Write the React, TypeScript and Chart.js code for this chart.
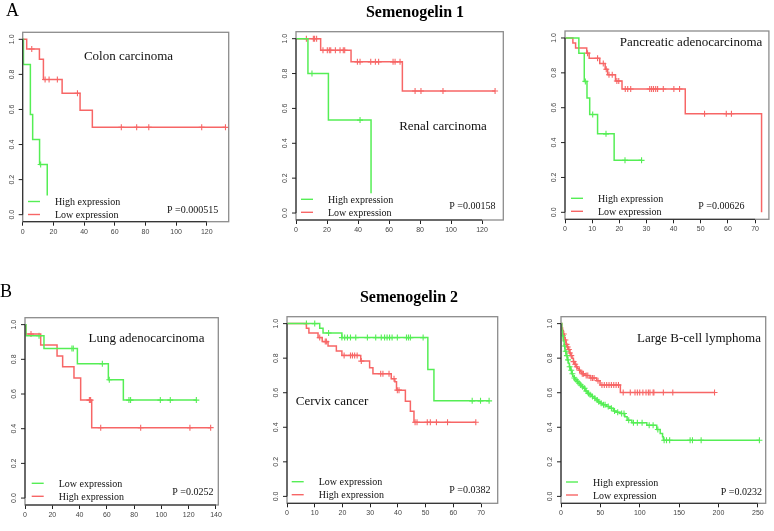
import React, { useEffect, useRef } from 'react';
import { Chart, registerables } from 'chart.js';
Chart.register(...registerables);

// ---------- DATA ----------
// Panel A1: Colon carcinoma (Semenogelin 1)
const colonHighT = [0, 0.5, 5, 6.5, 11, 16];
const colonHighS = [1, 0.857, 0.571, 0.429, 0.286, 0];
const colonHighC = [11.7];
const colonLowT = [0, 2.6, 10.9, 13.5, 25.7, 37.4, 45.4, 132.2];
const colonLowS = [1, 0.945, 0.887, 0.771, 0.692, 0.596, 0.498, 0.498];
const colonLowC = [5.9, 14.6, 17.2, 22.6, 35.7, 64.3, 74.3, 82.2, 116.7, 132.2];
const colonTicks = [0, 20, 40, 60, 80, 100, 120];

// Panel A2: Renal carcinoma
const renalHighT = [0, 7.7, 20.9, 48.4];
const renalHighS = [1, 0.8, 0.533, 0];
const renalHighC = [10.3, 41.3];
const renalLowT = [0, 15.9, 35.5, 68.6, 128.4];
const renalLowS = [1, 0.933, 0.867, 0.7, 0.7];
const renalLowC = [6.7, 11.2, 12, 13.3, 17.4, 20.2, 21.5, 22.4, 25.4, 28.4, 30.5, 31.4, 39.6, 41.3, 48.2, 51.2, 53.3, 62.6, 63.9, 67.1, 76.8, 80.6, 94.8, 128.4];
const renalTicks = [0, 20, 40, 60, 80, 100, 120];

// Panel A3: Pancreatic adenocarcinoma
const pancHighT = [0, 5.1, 7.1, 8.1, 9.1, 12, 18.1, 28.2];
const pancHighS = [1, 0.913, 0.751, 0.656, 0.561, 0.45, 0.298, 0.298];
const pancHighC = [7.5, 10.2, 15.1, 22.1, 28.2];
const pancLowT = [0, 2.9, 3.9, 8, 8.9, 12.8, 14.8, 15.7, 18.6, 21, 44.3, 72.4];
const pancLowS = [1, 0.971, 0.943, 0.913, 0.884, 0.854, 0.821, 0.789, 0.753, 0.707, 0.565, 0];
const pancLowC = [8.3, 12, 14.1, 15.2, 16.2, 17.4, 19.1, 19.8, 22.2, 23.1, 24.2, 31.2, 31.9, 32.6, 33.4, 34.1, 36.2, 40.1, 42.2, 51.4, 59.4, 61.3];
const pancTicks = [0, 10, 20, 30, 40, 50, 60, 70];

// Panel B1: Lung adenocarcinoma (Semenogelin 2)
const lungLowT = [0, 0.7, 13.9, 38.4, 61.1, 72.1, 125.6];
const lungLowS = [1, 0.936, 0.862, 0.775, 0.682, 0.565, 0.565];
const lungLowC = [10.3, 34.4, 35.4, 56.7, 61.8, 76.2, 77.4, 99.2, 106.5, 125.6];
const lungHighT = [0, 0.5, 11.5, 23.5, 27.6, 35.9, 40.8, 48.9, 136.1];
const lungHighS = [1, 0.946, 0.882, 0.819, 0.757, 0.693, 0.565, 0.406, 0.406];
const lungHighC = [4.4, 47.2, 48.1, 55.5, 84.8, 120.9, 136.1];
const lungTicks = [0, 20, 40, 60, 80, 100, 120, 140];

// Panel B2: Cervix cancer
const cervLowT = [0, 11.8, 13, 19.8, 50.8, 53, 72.9];
const cervLowS = [1, 0.973, 0.946, 0.919, 0.735, 0.553, 0.553];
const cervLowC = [7, 10, 15, 19.8, 20.8, 21.8, 22.9, 24.8, 29, 32, 34, 35.2, 36.1, 37, 37.9, 39.8, 43.1, 43.8, 44.5, 49.1, 66.8, 69.8, 72.9];
const cervHighT = [0, 7, 7.9, 11.2, 12.7, 14.8, 17.8, 19.8, 26.6, 29.8, 31, 37.6, 38.9, 39.5, 42.7, 44.5, 45.8, 68.1];
const cervHighS = [1, 0.973, 0.946, 0.919, 0.896, 0.87, 0.841, 0.816, 0.783, 0.745, 0.71, 0.681, 0.663, 0.615, 0.551, 0.493, 0.429, 0.429];
const cervHighC = [11.8, 13.8, 14.2, 20.6, 22.9, 23.6, 24.4, 25.3, 26.8, 33.8, 34.6, 36.8, 38.6, 39.8, 40.4, 46.2, 46.9, 50.6, 51.7, 53.9, 57.9, 68.1];
const cervTicks = [0, 10, 20, 30, 40, 50, 60, 70];

// Panel B3: Large B-cell lymphoma
const lymHighT = [0, 1, 2, 3, 4, 5, 6.5, 8, 9.3, 10.6, 12, 13.6, 15, 16.5, 18, 20, 22, 24, 26.5, 29, 31, 33.5, 36, 39, 42, 44.5, 47, 49.6, 53, 58, 62, 66.5, 70, 75, 81, 84, 90, 109, 121.6, 126, 129, 130, 252];
const lymHighS = [1, 0.96, 0.93, 0.9, 0.87, 0.84, 0.815, 0.79, 0.77, 0.75, 0.73, 0.71, 0.695, 0.685, 0.675, 0.665, 0.655, 0.645, 0.635, 0.626, 0.61, 0.596, 0.588, 0.578, 0.568, 0.558, 0.548, 0.539, 0.53, 0.52, 0.51, 0.494, 0.487, 0.48, 0.461, 0.44, 0.426, 0.412, 0.387, 0.364, 0.345, 0.325, 0.325];
const lymHighC = [2.5, 4.5, 6, 7.5, 9, 11, 13, 14.5, 17, 19, 21, 23, 25, 27.5, 30, 32, 35, 37, 40, 43, 46, 48, 51, 54, 56, 60, 64, 68, 72, 77, 80, 86, 92, 97, 103, 112, 117, 123, 131, 134, 138, 164, 167, 178, 252];
const lymLowT = [0, 1, 2, 3, 4, 5, 6.4, 8, 9.3, 11, 12.3, 14, 15.7, 17.5, 19, 21, 22.9, 25, 26.3, 30.5, 36.9, 45.3, 49.6, 75.4, 195];
const lymLowS = [1, 0.975, 0.96, 0.94, 0.92, 0.905, 0.88, 0.865, 0.85, 0.83, 0.815, 0.8, 0.78, 0.765, 0.75, 0.74, 0.73, 0.72, 0.71, 0.7, 0.685, 0.67, 0.645, 0.601, 0.601];
const lymLowC = [3.5, 5.5, 7, 8.5, 10, 11.5, 13, 16, 18, 20, 23.5, 27, 28.5, 32, 34, 38, 40, 42, 47, 52, 55, 58, 61, 64, 67, 70, 73, 79, 88, 94, 97, 100, 104, 108, 111, 113, 117, 118, 130, 142, 195];
const lymTicks = [0, 50, 100, 150, 200, 250];

const yTicks = [0, 0.2, 0.4, 0.6, 0.8, 1.0];
const yTickLabels = ['0.0', '0.2', '0.4', '0.6', '0.8', '1.0'];

// ---------- STYLE / LAYOUT ----------
const GREEN = '#55ee55';
const RED = '#f76666';
const W = 774;
const H = 531;
const Y_AXIS_W = 20;
const X_AXIS_H = 24;

type Curve = { t: number[]; s: number[]; c: number[]; color: string; label: string };
type Panel = {
  box: { l: number; t: number; r: number; b: number };
  xMax: number;
  xTicks: number[];
  title: string;
  titleX: number;
  titleY: number;
  curves: Curve[];
  legX: number;
  legY: number;
  legW: number;
  pText: string;
  pX: number;
  pY: number;
};

const panels: Panel[] = [
  {
    box: { l: 22.7, t: 32.3, r: 228.7, b: 221.7 }, xMax: 134.3, xTicks: colonTicks,
    title: 'Colon carcinoma', titleX: 128.5, titleY: 57,
    curves: [
      { t: colonHighT, s: colonHighS, c: colonHighC, color: GREEN, label: 'High expression' },
      { t: colonLowT, s: colonLowS, c: colonLowC, color: RED, label: 'Low expression' },
    ],
    legX: 28, legY: 201.5, legW: 100, pText: 'P =0.000515', pX: 167, pY: 210,
  },
  {
    box: { l: 296, t: 31.7, r: 503.3, b: 220 }, xMax: 133.7, xTicks: renalTicks,
    title: 'Renal carcinoma', titleX: 443, titleY: 127,
    curves: [
      { t: renalHighT, s: renalHighS, c: renalHighC, color: GREEN, label: 'High expression' },
      { t: renalLowT, s: renalLowS, c: renalLowC, color: RED, label: 'Low expression' },
    ],
    legX: 301, legY: 199.3, legW: 100, pText: 'P =0.00158', pX: 449.3, pY: 206.7,
  },
  {
    box: { l: 565, t: 31, r: 772, b: 219.3 }, xMax: 75.1, xTicks: pancTicks,
    title: 'Pancreatic adenocarcinoma', titleX: 691, titleY: 43,
    curves: [
      { t: pancHighT, s: pancHighS, c: pancHighC, color: GREEN, label: 'High expression' },
      { t: pancLowT, s: pancLowS, c: pancLowC, color: RED, label: 'Low expression' },
    ],
    legX: 571, legY: 198.3, legW: 95, pText: 'P =0.00626', pX: 698.3, pY: 206.7,
  },
  {
    box: { l: 25, t: 317.7, r: 218.3, b: 505 }, xMax: 141.7, xTicks: lungTicks,
    title: 'Lung adenocarcinoma', titleX: 146.5, titleY: 339,
    curves: [
      { t: lungLowT, s: lungLowS, c: lungLowC, color: GREEN, label: 'Low expression' },
      { t: lungHighT, s: lungHighS, c: lungHighC, color: RED, label: 'High expression' },
    ],
    legX: 31.7, legY: 483.3, legW: 95, pText: 'P =0.0252', pX: 172.3, pY: 492.3,
  },
  {
    box: { l: 287, t: 316.7, r: 497.7, b: 503.3 }, xMax: 76, xTicks: cervTicks,
    title: 'Cervix cancer', titleX: 332, titleY: 401.7,
    curves: [
      { t: cervLowT, s: cervLowS, c: cervLowC, color: GREEN, label: 'Low expression' },
      { t: cervHighT, s: cervHighS, c: cervHighC, color: RED, label: 'High expression' },
    ],
    legX: 291.7, legY: 481.7, legW: 95, pText: 'P =0.0382', pX: 449.3, pY: 490,
  },
  {
    box: { l: 561, t: 316.7, r: 765.7, b: 503.3 }, xMax: 260, xTicks: lymTicks,
    title: 'Large B-cell lymphoma', titleX: 699, titleY: 339,
    curves: [
      { t: lymHighT, s: lymHighS, c: lymHighC, color: GREEN, label: 'High expression' },
      { t: lymLowT, s: lymLowS, c: lymLowC, color: RED, label: 'Low expression' },
    ],
    legX: 566, legY: 482, legW: 95, pText: 'P =0.0232', pX: 720.7, pY: 492.7,
  },
];

// survival value of a step curve at time x (for placing censor marks on the curve)
function stepAt(t: number[], s: number[], x: number): number {
  let v = s[0];
  for (let i = 0; i < t.length; i++) {
    if (t[i] <= x) v = s[i];
  }
  return v;
}

function makePlugin(p: Panel) {
  return {
    id: 'kmDecor',
    afterDatasetsDraw(chart: any) {
      const ctx = chart.ctx as CanvasRenderingContext2D;
      const a = chart.chartArea;
      const xs = chart.scales.x;
      const ys = chart.scales.y;
      ctx.save();
      // legend background (white, covers curve ends)
      const rowH = p.curves.length > 1 ? 13 : 0;
      ctx.fillStyle = '#ffffff';
      ctx.fillRect(p.legX - 2, p.legY - 6, p.legW, rowH + 12);
      // legend lines and labels
      ctx.font = '10px "Liberation Serif", "Times New Roman", serif';
      ctx.textBaseline = 'middle';
      ctx.textAlign = 'left';
      p.curves.forEach((c, i) => {
        const y = p.legY + i * rowH;
        ctx.strokeStyle = c.color;
        ctx.lineWidth = 1.4;
        ctx.beginPath();
        ctx.moveTo(p.legX, y);
        ctx.lineTo(p.legX + 12, y);
        ctx.stroke();
        ctx.fillStyle = '#111';
        ctx.fillText(c.label, p.legX + 27, y + 1);
      });
      // p value
      ctx.fillText(p.pText, p.pX, p.pY);
      // title in plot
      ctx.font = '13px "Liberation Serif", "Times New Roman", serif';
      ctx.textAlign = 'center';
      ctx.fillText(p.title, p.titleX, p.titleY);
      // box
      ctx.strokeStyle = '#8c8c8c';
      ctx.lineWidth = 1.3;
      ctx.strokeRect(a.left, a.top, a.right - a.left, a.bottom - a.top);
      // axis lines (black)
      ctx.strokeStyle = '#222';
      ctx.lineWidth = 1;
      ctx.beginPath();
      ctx.moveTo(xs.getPixelForValue(p.xTicks[0]), a.bottom);
      ctx.lineTo(xs.getPixelForValue(p.xTicks[p.xTicks.length - 1]), a.bottom);
      ctx.moveTo(a.left, ys.getPixelForValue(yTicks[0]));
      ctx.lineTo(a.left, ys.getPixelForValue(yTicks[yTicks.length - 1]));
      ctx.stroke();
      // y ticks and rotated labels
      ctx.font = '7px "Liberation Sans", Arial, sans-serif';
      ctx.fillStyle = '#444';
      yTicks.forEach((v, i) => {
        const y = ys.getPixelForValue(v);
        ctx.beginPath();
        ctx.moveTo(a.left - 4, y);
        ctx.lineTo(a.left, y);
        ctx.stroke();
        ctx.save();
        ctx.translate(a.left - 11, y);
        ctx.rotate(-Math.PI / 2);
        ctx.textAlign = 'center';
        ctx.textBaseline = 'middle';
        ctx.fillText(yTickLabels[i], 0, 0);
        ctx.restore();
      });
      ctx.restore();
    },
  };
}

function KMPanel({ p }: { p: Panel }) {
  const ref = useRef<HTMLCanvasElement | null>(null);
  useEffect(() => {
    if (!ref.current) return;
    const datasets: any[] = [];
    p.curves.forEach((c) => {
      datasets.push({
        data: c.t.map((t, i) => ({ x: t, y: c.s[i] })),
        borderColor: c.color,
        borderWidth: 1.5,
        pointRadius: 0,
        stepped: 'before',
        fill: false,
        showLine: true,
      });
    });
    p.curves.forEach((c) => {
      datasets.push({
        data: c.c.map((t) => ({ x: t, y: stepAt(c.t, c.s, t) })),
        borderColor: c.color,
        backgroundColor: c.color,
        borderWidth: 1.1,
        pointStyle: 'cross',
        pointRadius: 3,
        showLine: false,
      });
    });
    const chart = new Chart(ref.current, {
      type: 'scatter',
      data: { datasets },
      options: {
        responsive: false,
        animation: false,
        events: [],
        layout: {
          padding: {
            left: p.box.l - Y_AXIS_W,
            top: p.box.t,
            right: W - p.box.r,
            bottom: H - p.box.b - X_AXIS_H,
          },
        },
        plugins: { legend: { display: false }, tooltip: { enabled: false } },
        scales: {
          x: {
            type: 'linear',
            min: 0,
            max: p.xMax,
            afterBuildTicks: (ax: any) => {
              ax.ticks = p.xTicks.map((v) => ({ value: v }));
            },
            afterFit: (s: any) => {
              s.height = X_AXIS_H;
            },
            grid: { display: true, drawOnChartArea: false, drawTicks: true, tickLength: 4, color: '#222' },
            border: { display: false },
            ticks: {
              autoSkip: false,
              maxRotation: 0,
              padding: 2,
              color: '#444',
              font: { family: '"Liberation Sans", Arial, sans-serif', size: 7 },
            },
          },
          y: {
            type: 'linear',
            min: -0.04,
            max: 1.04,
            afterFit: (s: any) => {
              s.width = Y_AXIS_W;
            },
            grid: { display: false },
            border: { display: false },
            ticks: { display: false },
          },
        },
      } as any,
      plugins: [makePlugin(p)],
    });
    return () => chart.destroy();
  }, [p]);
  return (
    <canvas
      ref={ref}
      width={W}
      height={H}
      style={{ position: 'absolute', left: 0, top: 0, width: W, height: H }}
    />
  );
}

const serif = '"Liberation Serif", "Times New Roman", serif';

export default function App() {
  return (
    <div style={{ position: 'absolute', left: 0, top: 0, width: W, height: H, background: '#fff', overflow: 'hidden' }}>
      {panels.map((p, i) => (
        <KMPanel key={i} p={p} />
      ))}
      <div style={{ position: 'absolute', left: 6, top: 0, fontFamily: serif, fontSize: 18, lineHeight: '20px' }}>A</div>
      <div style={{ position: 'absolute', left: 0, top: 281, fontFamily: serif, fontSize: 18, lineHeight: '20px' }}>B</div>
      <div style={{ position: 'absolute', left: 315, width: 200, top: 3, textAlign: 'center', fontFamily: serif, fontSize: 16, fontWeight: 'bold', lineHeight: '18px' }}>Semenogelin 1</div>
      <div style={{ position: 'absolute', left: 309, width: 200, top: 288, textAlign: 'center', fontFamily: serif, fontSize: 16, fontWeight: 'bold', lineHeight: '18px' }}>Semenogelin 2</div>
    </div>
  );
}
